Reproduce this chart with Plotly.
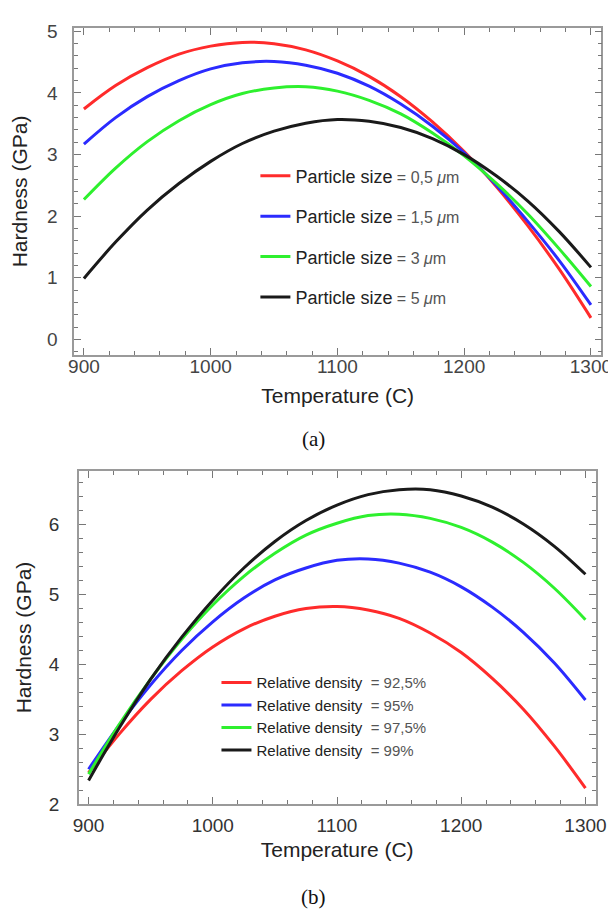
import plotly.graph_objects as go

# ---------------- data ----------------
temperature = [900, 925, 950, 975, 1000, 1025, 1050, 1075, 1100, 1125,
               1150, 1175, 1200, 1225, 1250, 1275, 1300]

# (a) particle size series
size_labels = ["0,5", "1,5", "3", "5"]
hard_size_05 = [3.74, 4.12, 4.41, 4.63, 4.76, 4.82, 4.80, 4.70, 4.52, 4.27,
                3.94, 3.53, 3.05, 2.49, 1.85, 1.14, 0.35]
hard_size_15 = [3.17, 3.60, 3.94, 4.20, 4.39, 4.49, 4.51, 4.45, 4.32, 4.11,
                3.82, 3.46, 3.03, 2.51, 1.92, 1.28, 0.56]
hard_size_3 = [2.27, 2.78, 3.21, 3.55, 3.81, 3.99, 4.08, 4.10, 4.03, 3.88,
               3.66, 3.35, 2.98, 2.54, 2.04, 1.47, 0.86]
hard_size_5 = [0.99, 1.58, 2.10, 2.53, 2.89, 3.18, 3.38, 3.51, 3.57, 3.54,
               3.44, 3.26, 3.00, 2.66, 2.25, 1.75, 1.17]

# (b) relative density series
density_labels = ["92,5%", "95%", "97,5%", "99%"]
hard_dens_925 = [2.45, 3.01, 3.50, 3.91, 4.25, 4.51, 4.69, 4.80, 4.83, 4.78,
                 4.66, 4.45, 4.17, 3.80, 3.36, 2.83, 2.23]
hard_dens_95 = [2.50, 3.14, 3.71, 4.20, 4.61, 4.95, 5.21, 5.38, 5.49, 5.51,
                5.45, 5.32, 5.11, 4.82, 4.46, 4.02, 3.49]
hard_dens_975 = [2.43, 3.15, 3.79, 4.36, 4.85, 5.26, 5.59, 5.85, 6.02, 6.13,
                 6.15, 6.09, 5.96, 5.75, 5.46, 5.09, 4.64]
hard_dens_99 = [2.34, 3.10, 3.79, 4.39, 4.92, 5.38, 5.76, 6.06, 6.28, 6.43,
                6.50, 6.50, 6.41, 6.25, 6.01, 5.69, 5.29]

x_ticks = [900, 1000, 1100, 1200, 1300]
y_ticks_a = [0, 1, 2, 3, 4, 5]
y_ticks_b = [2, 3, 4, 5, 6]

colors = ["#ff2b2b", "#2b2bff", "#2ef02e", "#1a1a1a"]

# ---------------- figure ----------------
fig = go.Figure()

series_a = [hard_size_05, hard_size_15, hard_size_3, hard_size_5]
for i, (lab, ys) in enumerate(zip(size_labels, series_a)):
    fig.add_trace(go.Scatter(
        x=temperature, y=ys, mode="lines", line=dict(color=colors[i], width=3, shape="spline"),
        name=("Particle size<span style='color:#555;font-size:16px'> = " + lab +
              " <i>μ</i>m</span>"),
        legend="legend", legendgroup="a%d" % i, xaxis="x", yaxis="y"))

series_b = [hard_dens_925, hard_dens_95, hard_dens_975, hard_dens_99]
for i, (lab, ys) in enumerate(zip(density_labels, series_b)):
    fig.add_trace(go.Scatter(
        x=temperature, y=ys, mode="lines", line=dict(color=colors[i], width=3, shape="spline"),
        name=("Relative density  <span style='color:#555;font-size:15px'>= " + lab + "</span>"),
        legend="legend2", legendgroup="b%d" % i, xaxis="x2", yaxis="y2"))

frame = dict(showline=True, linecolor="#9a9a9a", linewidth=1.5, mirror="allticks",
             ticks="inside", ticklen=7, tickwidth=1.2, tickcolor="#777",
             showgrid=False, zeroline=False)

tick_font_a = dict(family="Liberation Sans, Arial", size=19, color="#444")
tick_font_b = dict(family="Liberation Sans, Arial", size=19, color="#333")
title_font = dict(family="Liberation Sans, Arial", size=21, color="#222")

fig.update_layout(
    width=616, height=915,
    margin=dict(l=0, r=0, t=0, b=0),
    paper_bgcolor="white", plot_bgcolor="white",
    showlegend=True,
    xaxis=dict(domain=[0.1002, 0.9805], anchor="y", range=[892.2, 1308.2],
               tickvals=x_ticks, minor=dict(dtick=20, tick0=900, ticks="inside", ticklen=4,
                                            tickcolor="#777"),
               tickfont=tick_font_a, ticklabelstandoff=-6,
               title=dict(text="Temperature (C)", font=title_font, standoff=12), **frame),
    yaxis=dict(domain=[0.6211, 0.9855], anchor="x", range=[-0.25, 5.054],
               tickvals=y_ticks_a, minor=dict(dtick=0.2, tick0=0, ticks="inside", ticklen=4,
                                              tickcolor="#777"),
               tickfont=tick_font_a, ticklabelstandoff=11,
               title=dict(text="Hardness (GPa)", font=title_font, standoff=14), **frame),
    xaxis2=dict(domain=[0.1083, 0.9708], anchor="y2", range=[892.2, 1308.1],
                tickvals=x_ticks, minor=dict(dtick=20, tick0=900, ticks="inside", ticklen=4,
                                             tickcolor="#777"),
                tickfont=tick_font_b, ticklabelstandoff=3,
                title=dict(text="Temperature (C)", font=title_font, standoff=8), **frame),
    yaxis2=dict(domain=[0.1202, 0.4918], anchor="x2", range=[2, 6.77],
                tickvals=y_ticks_b, minor=dict(dtick=0.2, tick0=2, ticks="inside", ticklen=4,
                                               tickcolor="#777"),
                tickfont=tick_font_b, ticklabelstandoff=14,
                title=dict(text="Hardness (GPa)", font=title_font, standoff=11), **frame),
    legend=dict(x=0.403, y=0.841, xanchor="left", yanchor="top",
                bgcolor="rgba(0,0,0,0)", borderwidth=0, tracegroupgap=14,
                font=dict(family="Liberation Sans, Arial", size=18, color="#222")),
    legend2=dict(x=0.338, y=0.274, xanchor="left", yanchor="top",
                 bgcolor="rgba(0,0,0,0)", borderwidth=0, tracegroupgap=0,
                 font=dict(family="Liberation Sans, Arial", size=15, color="#222")),
    annotations=[
        dict(text="(a)", x=0.5, y=(915 - 432) / 915, xref="paper", yref="paper",
             yanchor="middle", showarrow=False,
             font=dict(family="Liberation Serif, Times New Roman", size=21, color="#111")),
        dict(text="(b)", x=0.5, y=(915 - 900) / 915, xref="paper", yref="paper",
             yanchor="middle", showarrow=False,
             font=dict(family="Liberation Serif, Times New Roman", size=21, color="#111")),
    ],
)

fig.write_html("out.html")
